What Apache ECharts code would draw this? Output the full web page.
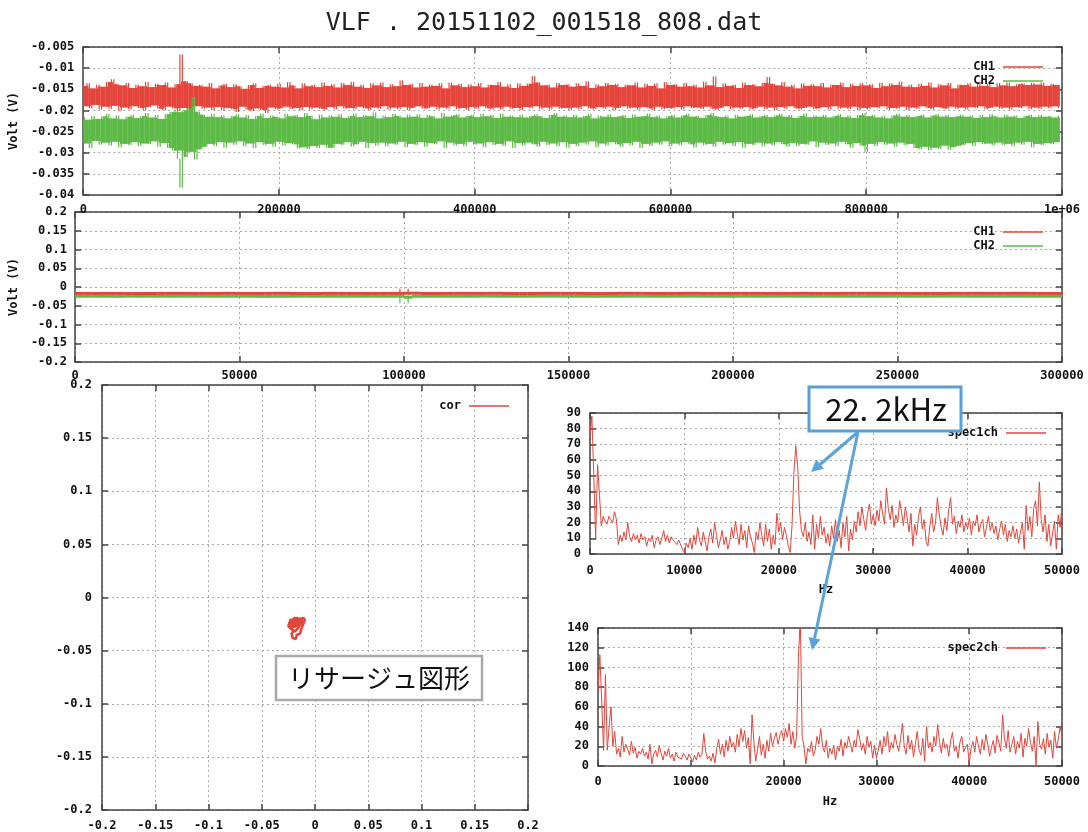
<!DOCTYPE html>
<html><head><meta charset="utf-8">
<script src="https://cdn.jsdelivr.net/npm/echarts@6/dist/echarts.min.js"></script>
<style>html,body{margin:0;padding:0;background:#fff}#c{width:1088px;height:832px}</style>
</head><body><div id="c"></div>
<script>
// ---------------- data ----------------
const titleText = 'VLF . 20151102_001518_808.dat';

// Panel 1: decimated samples, one every 2500 samples, values in mV
const longStep = 2500;
const ch1Long = [
-14.2,-19.0,-13.6,-19.5,-14.8,-18.7,-13.9,-19.8,-14.4,-19.1,-13.3,-19.6,-12.6,-18.9,-13.8,-20.1,-14.1,-19.3,-13.5,-19.7,
-14.7,-19.0,-13.9,-19.4,-14.3,-20.0,-13.2,-19.2,-14.5,-18.8,-13.7,-19.6,-14.0,-19.9,-13.4,-19.1,-14.6,-19.5,-13.8,-20.2,
-6.8,-19.4,-13.1,-20.3,-13.6,-19.8,-14.2,-19.0,-13.9,-19.6,-14.4,-19.3,-13.5,-19.9,-14.8,-19.2,-14.1,-20.0,-13.7,-19.4,
-14.5,-19.7,-13.8,-20.4,-14.3,-19.1,-14.9,-19.8,-14.0,-20.2,-13.6,-19.5,-14.7,-19.9,-14.2,-20.6,-13.9,-19.3,-14.4,-19.8,
-13.7,-19.5,-14.6,-19.1,-13.3,-19.7,-14.1,-19.4,-14.8,-19.9,-13.6,-19.2,-14.3,-19.8,-13.9,-19.3,-14.5,-19.6,-13.4,-19.9,
-14.2,-19.2,-13.8,-19.7,-14.6,-19.0,-13.5,-19.6,-14.0,-19.4,-13.2,-19.8,-14.4,-19.1,-13.9,-19.5,-14.7,-19.9,-13.6,-19.3,
-14.1,-19.6,-13.4,-19.0,-14.5,-19.8,-13.8,-19.3,-14.3,-19.7,-12.9,-19.2,-14.0,-19.9,-13.7,-19.4,-14.6,-19.0,-13.5,-19.6,
-14.4,-19.5,-13.9,-19.1,-14.2,-19.8,-13.6,-19.3,-14.8,-19.6,-13.4,-19.0,-14.1,-19.7,-13.7,-19.4,-14.5,-19.9,-13.8,-19.2,
-14.3,-19.6,-13.5,-19.0,-14.6,-19.5,-13.9,-19.8,-14.0,-19.3,-13.3,-19.7,-14.4,-19.1,-13.8,-19.6,-14.7,-19.4,-13.6,-19.9,
-14.2,-19.2,-13.7,-19.5,-11.9,-19.0,-13.4,-19.7,-14.1,-19.3,-13.9,-19.8,-14.6,-19.1,-13.5,-19.6,-14.0,-19.4,-13.8,-19.9,
-14.4,-19.3,-13.6,-19.7,-14.2,-19.0,-13.1,-19.5,-14.7,-19.8,-13.8,-19.2,-14.3,-19.6,-13.5,-19.1,-14.0,-19.9,-13.7,-19.4,
-14.5,-19.0,-13.9,-19.6,-14.1,-19.3,-13.4,-19.8,-14.6,-19.2,-13.7,-19.5,-14.2,-19.9,-13.6,-19.1,-14.8,-19.7,-13.3,-19.4,
-14.0,-19.6,-13.8,-19.2,-14.4,-19.8,-13.5,-19.0,-14.3,-19.5,-13.9,-19.3,-14.6,-19.7,-13.2,-19.1,-14.1,-19.6,-12.0,-19.9,
-14.5,-19.4,-13.6,-19.0,-14.2,-19.7,-13.9,-19.3,-14.7,-19.6,-13.4,-19.2,-14.0,-19.8,-13.8,-19.5,-14.3,-19.1,-13.5,-19.7,
-12.1,-19.3,-13.7,-19.9,-14.1,-19.2,-13.3,-19.6,-14.4,-19.0,-13.9,-19.5,-14.8,-19.8,-13.6,-19.4,-14.2,-19.1,-13.8,-19.7,
-14.3,-19.5,-13.5,-19.2,-14.6,-19.8,-13.9,-19.0,-14.0,-19.6,-13.4,-19.3,-14.5,-19.7,-13.7,-19.1,-14.2,-19.9,-13.6,-19.4,
-14.1,-19.7,-13.8,-19.2,-14.7,-19.5,-13.5,-19.0,-14.3,-19.8,-13.6,-19.4,-14.0,-19.6,-13.2,-19.1,-14.4,-19.9,-13.9,-19.3,
-14.5,-19.6,-13.7,-19.0,-14.2,-19.4,-13.4,-19.8,-14.6,-19.2,-13.8,-19.5,-14.1,-19.7,-13.5,-19.1,-14.8,-19.6,-13.9,-19.3,
-14.0,-19.8,-13.6,-19.2,-14.4,-19.5,-13.3,-19.0,-14.2,-19.7,-13.7,-19.4,-14.5,-19.1,-13.5,-19.6,-14.1,-19.3,-13.4,-19.8,
-14.3,-19.2,-13.8,-19.5,-13.6,-19.0,-14.0,-19.7,-13.5,-19.3,-13.9,-19.6,-13.4,-19.1,-14.2,-19.5,-13.7,-19.0,-14.0,-19.4
];
const ch2Long = [
-21.6,-27.8,-22.2,-28.9,-21.3,-27.2,-22.0,-28.1,-21.4,-27.6,-20.8,-28.3,-21.9,-27.4,-21.2,-28.7,-22.1,-27.9,-21.5,-28.2,
-21.0,-27.5,-21.8,-28.4,-21.3,-27.8,-20.6,-28.0,-21.7,-27.3,-21.1,-28.6,-22.0,-27.7,-20.9,-28.9,-20.4,-29.5,-19.8,-31.4,
-38.3,-20.0,-31.0,-19.5,-29.8,-16.8,-31.6,-20.3,-29.2,-21.0,-28.6,-21.5,-27.9,-20.8,-28.4,-21.6,-27.5,-21.2,-28.8,-21.9,
-27.6,-21.4,-28.1,-20.9,-27.3,-21.7,-28.5,-21.1,-27.8,-22.0,-28.9,-21.3,-27.5,-20.7,-28.2,-21.8,-27.9,-21.2,-28.6,-21.5,
-27.4,-21.9,-28.3,-20.8,-27.7,-21.4,-28.0,-21.1,-29.0,-21.6,-28.7,-20.6,-29.1,-21.3,-28.4,-22.1,-28.9,-21.0,-28.1,-21.7,
-28.8,-21.2,-28.8,-21.5,-27.9,-20.9,-28.2,-21.8,-27.5,-21.3,-28.6,-20.7,-28.0,-21.6,-27.4,-21.1,-28.9,-21.4,-27.7,-20.5,
-28.3,-21.9,-27.6,-21.2,-28.5,-21.6,-27.8,-20.8,-28.1,-21.3,-27.4,-21.7,-28.7,-21.0,-27.9,-21.5,-28.2,-20.9,-27.5,-21.8,
-28.6,-21.1,-27.7,-21.4,-28.0,-21.9,-27.3,-20.6,-28.8,-21.5,-27.6,-21.2,-28.3,-20.9,-27.9,-21.7,-28.5,-21.3,-27.4,-21.0,
-28.1,-21.6,-27.8,-20.8,-28.7,-21.4,-27.5,-21.1,-28.2,-21.8,-27.9,-20.7,-28.4,-21.5,-27.3,-21.2,-28.9,-21.6,-27.7,-21.0,
-28.3,-21.7,-27.6,-21.3,-28.0,-20.9,-28.6,-21.4,-27.4,-21.8,-28.2,-21.1,-27.8,-20.6,-28.5,-21.5,-27.5,-21.2,-28.8,-21.6,
-27.9,-21.0,-28.4,-21.7,-27.6,-21.3,-28.1,-20.8,-27.3,-21.9,-28.7,-21.2,-27.8,-21.5,-28.3,-20.9,-27.5,-21.6,-28.0,-21.4,
-28.6,-21.1,-27.7,-21.8,-28.2,-21.0,-27.4,-21.5,-28.9,-21.3,-27.9,-20.7,-28.4,-21.6,-27.6,-21.2,-28.1,-21.9,-27.3,-21.4,
-28.5,-21.0,-27.8,-21.7,-28.3,-21.2,-27.5,-20.8,-28.0,-21.5,-28.7,-21.3,-27.6,-21.8,-28.2,-21.1,-27.9,-20.6,-28.6,-21.4,
-27.4,-21.6,-28.1,-21.2,-27.7,-21.9,-28.4,-21.0,-27.5,-21.5,-28.8,-21.3,-27.9,-20.9,-28.2,-21.7,-27.6,-21.4,-28.5,-21.1,
-27.8,-21.6,-28.3,-21.2,-27.5,-20.8,-28.0,-21.5,-28.6,-21.1,-27.7,-21.8,-28.4,-21.3,-27.9,-20.7,-28.1,-21.6,-27.3,-21.2,
-28.7,-21.5,-27.6,-21.0,-28.2,-21.7,-27.8,-21.3,-28.5,-20.9,-27.4,-21.6,-28.0,-21.2,-28.8,-21.8,-27.7,-21.1,-28.3,-20.6,
-29.8,-21.4,-27.9,-21.0,-28.4,-21.7,-27.5,-21.3,-28.1,-21.9,-27.8,-21.2,-28.6,-20.8,-27.6,-21.5,-28.2,-21.1,-27.9,-21.6,
-28.9,-21.3,-29.2,-21.0,-28.6,-21.7,-29.4,-21.2,-28.8,-20.9,-29.1,-21.5,-28.3,-21.1,-29.3,-21.6,-28.7,-21.4,-28.4,-21.0,
-28.1,-21.5,-27.7,-21.2,-28.4,-21.8,-27.5,-21.1,-28.0,-21.6,-27.8,-20.9,-28.3,-21.4,-27.6,-21.7,-28.2,-21.0,-27.9,-21.5,
-28.5,-21.2,-27.6,-21.8,-28.1,-21.3,-27.4,-21.0,-28.7,-21.6,-27.9,-21.1,-28.2,-21.5,-27.7,-21.3,-28.0,-21.7,-27.5,-21.2
];

// Panel 2: first 300000 samples, one every 2500 samples, mV
const shortStep = 2500;
const ch1Short = [
-15.2,-18.9,-14.8,-19.3,-15.6,-18.6,-14.5,-19.1,-15.9,-18.8,
-14.9,-19.4,-15.3,-18.7,-14.6,-19.0,-15.7,-18.5,-15.1,-19.2,
-14.7,-18.9,-15.4,-19.5,-15.0,-18.6,-14.4,-19.1,-15.8,-18.8,
-15.2,-19.3,-14.6,-18.7,-15.5,-19.0,-14.9,-19.4,-15.3,-18.9,
-4.5,-19.6,-14.2,-18.8,-15.6,-19.1,-14.8,-18.5,-15.4,-19.2,
-15.0,-18.7,-14.6,-19.4,-15.7,-18.9,-15.1,-19.0,-14.5,-18.6,
-15.3,-19.3,-14.9,-18.8,-15.8,-19.1,-14.7,-18.5,-15.2,-19.4,
-14.4,-18.9,-15.5,-19.0,-15.0,-18.7,-14.8,-19.2,-15.6,-18.6,
-14.6,-19.3,-15.3,-18.8,-14.9,-19.1,-15.7,-18.5,-15.1,-19.4,
-14.5,-18.9,-15.4,-19.0,-14.8,-18.7,-15.2,-19.2,-14.7,-18.6,
-15.5,-19.3,-14.9,-18.8,-15.6,-19.1,-14.3,-18.9,-15.0,-19.4,
-14.6,-18.7,-15.3,-19.0,-15.1,-18.6,-14.8,-19.2,-15.4,-18.9,
-15.0
];
const ch2Short = [
-22.3,-27.1,-21.8,-26.6,-22.7,-27.4,-22.0,-26.9,-21.6,-27.3,
-22.4,-26.7,-21.9,-27.6,-22.2,-26.8,-21.7,-27.2,-22.5,-26.5,
-22.1,-27.0,-21.5,-27.5,-22.6,-26.9,-22.0,-27.3,-21.8,-26.7,
-22.4,-27.1,-21.6,-26.8,-22.3,-27.4,-21.9,-26.6,-22.7,-27.0,
-43.0,-21.8,-27.2,-22.1,-27.2,-21.8,-26.9,-22.4,-27.5,-22.0,
-26.7,-21.6,-27.3,-22.5,-26.8,-21.9,-27.0,-22.2,-26.6,-21.7,
-27.4,-22.3,-26.9,-21.8,-27.2,-22.6,-26.7,-22.0,-27.5,-21.5,
-26.8,-22.4,-27.1,-21.9,-26.6,-22.1,-27.3,-21.7,-26.9,-22.5,
-27.0,-21.8,-26.7,-22.3,-27.4,-22.0,-26.8,-21.6,-27.2,-22.4,
-26.6,-21.9,-27.5,-22.2,-26.9,-21.7,-27.1,-22.5,-26.7,-22.0,
-27.3,-21.8,-26.8,-22.3,-27.0,-21.6,-26.6,-22.1,-27.4,-21.9,
-26.9,-22.4,-27.2,-21.7,-26.7,-22.2,-27.1,-21.8,-26.8,-22.5,
-27.0
];

// Lissajous (CH1, CH2) pairs in mV
const corX = [-22,-15,-20,-13,-24,-17,-21,-14,-23,-16,-19,-12,-22,-18,-25,-15,-20,-13,-23,-17,-21,-14,-19,-24,-16,-22,-11,-9.5,-11,-13,-14,-17,-18,-21,-22,-20,-23,-25,-24,-20,-18,-21,-15,-12,-16,-19,-22,-20,-17,-23,
  -18,-23,-14,-21,-16,-24,-19,-13,-22,-17,-25,-15,-20,-23,-18,-21,-16,-24,-19,-22];
const corY = [-22,-25,-19,-21,-26,-20,-28,-23,-21,-27,-19.5,-20,-25,-22,-24,-21,-27,-24,-23,-26,-20,-22,-28,-22,-24,-27,-19,-21,-25,-30,-34,-35,-39,-38,-34,-31,-29,-27,-24,-22,-25,-23,-20,-22,-29,-32,-30,-25,-21,-26,
  -20,-24,-21,-26,-19,-23,-25,-20.5,-21,-24,-25,-22,-20,-27,-23,-19.5,-26,-21,-22,-24];

// Spectra, one value every 200 Hz from 0 to 50000 Hz
const specStep = 200;
const spec1 = [
76,88,50,10,57,38,18,24,21,19,24,22,20,27,22,6,12,8,14,9,20,11,8,13,9,
12,7,13,9,11,5,10,8,12,4,9,11,6,10,15,8,12,7,11,9,10,6,9,8,3,
1,7,4,10,3,12,6,17,9,5,14,8,2,11,16,7,20,12,4,9,15,6,11,3,8,
17,10,21,13,6,19,9,15,4,18,11,7,1,14,9,20,12,5,19,8,16,3,12,6,26,
14,20,9,17,12,5,1,18,52,69,56,28,15,11,20,8,14,6,25,3,19,10,24,12,17,
7,13,5,18,10,22,8,15,4,20,11,24,2,16,9,21,14,27,18,30,22,15,26,32,19,
25,18,28,21,34,26,19,42,29,22,31,17,25,20,34,27,18,30,23,14,26,5,19,12,24,
30,16,22,8,5,18,26,14,20,36,25,17,12,23,15,28,36,19,24,13,21,17,25,14,20,
16,23,12,21,18,25,14,19,22,11,17,24,15,20,13,18,9,16,21,12,19,8,15,11,18,
10,16,7,14,20,3,31,15,24,11,29,34,18,46,22,14,25,8,19,5,13,21,3,25,17,
32
];
const spec2 = [
76,113,65,16,93,16,40,60,20,35,12,18,9,30,14,22,17,11,25,13,19,8,15,12,18,
10,14,7,22,2,12,16,9,21,13,6,15,10,18,8,12,5,14,9,11,7,13,10,6,12,
8,4,11,6,14,9,12,33,15,7,10,5,13,3,18,27,12,22,9,26,15,30,19,24,14,
32,20,38,25,36,18,29,2,52,24,5,17,30,11,22,8,26,15,33,20,28,34,22,31,36,
25,38,29,43,22,35,18,30,110,150,30,20,2,18,14,25,10,16,30,22,38,20,14,26,8,
18,12,21,6,20,15,27,10,24,18,30,22,14,26,19,37,28,16,23,12,30,19,25,8,21,
8,16,26,12,30,20,35,14,24,18,32,22,15,27,43,20,12,31,17,26,9,22,35,16,11,
28,5,40,18,24,14,30,20,42,25,13,28,18,22,10,26,34,15,20,8,24,30,14,19,22,
3,18,25,14,30,20,12,27,16,32,22,10,19,26,13,31,24,15,52,28,18,36,14,22,30,
12,25,18,33,9,28,20,38,24,15,30,1,45,22,17,28,12,33,19,26,8,35,18,27,40,
30
];

// ---------------- styling ----------------
const RED = '#e4453b', GREEN = '#5dba47';
const FONT = '"DejaVu Sans Mono", "Liberation Mono", monospace';
const lab = {fontFamily: FONT, fontWeight: 'bold', fontSize: 12, color: '#111'};
const frame = {show: true, onZero: false, lineStyle: {color: '#444', width: 1.5}};
const tick = {show: true, inside: true, length: 6, lineStyle: {color: '#444', width: 1.5}};
const split = {show: true, lineStyle: {color: '#aaaaaa', type: [2, 3], width: 1}};
const fmt = v => String(Number(v.toFixed(4)));

function xAxes(g, min, max, interval, margin, formatter, extra) {
  return [
    Object.assign({type: 'value', gridIndex: g, min, max, interval, position: 'bottom',
      axisLine: frame, axisTick: tick, splitLine: split,
      axisLabel: Object.assign({margin, formatter, showMinLabel: true, showMaxLabel: true, hideOverlap: false}, lab)}, extra || {}),
    {type: 'value', gridIndex: g, min, max, interval, position: 'top',
      axisLine: frame, axisTick: tick, splitLine: {show: false}, axisLabel: {show: false}}
  ];
}
function yAxes(g, min, max, interval, margin, extra) {
  return [
    Object.assign({type: 'value', gridIndex: g, min, max, interval, position: 'left',
      axisLine: frame, axisTick: tick, splitLine: split,
      axisLabel: Object.assign({margin, formatter: fmt, showMinLabel: true, showMaxLabel: true, hideOverlap: false}, lab)}, extra || {}),
    {type: 'value', gridIndex: g, min, max, interval, position: 'right',
      axisLine: frame, axisTick: tick, splitLine: {show: false}, axisLabel: {show: false}}
  ];
}
const voltName = {name: 'Volt (V)', nameLocation: 'middle', nameRotate: 90, nameGap: 48,
  nameTextStyle: {fontFamily: FONT, fontWeight: 'bold', fontSize: 12, color: '#111'}};
const hzName = {name: 'Hz', nameLocation: 'middle', nameGap: 30,
  nameTextStyle: {fontFamily: FONT, fontWeight: 'bold', fontSize: 12, color: '#111'}};

const xAxis = [].concat(
  xAxes(0, 0, 1000000, 200000, 9, v => v === 1000000 ? '1e+06' : String(v)),
  xAxes(1, 0, 300000, 50000, 8, v => String(v)),
  xAxes(2, -0.2, 0.2, 0.05, 10, fmt),
  xAxes(3, 0, 50000, 10000, 11, v => String(v), hzName),
  xAxes(4, 0, 50000, 10000, 10, v => String(v), hzName)
);
const yAxis = [].concat(
  yAxes(0, -0.04, -0.005, 0.005, 9, voltName),
  yAxes(1, -0.2, 0.2, 0.05, 8, voltName),
  yAxes(2, -0.2, 0.2, 0.05, 10),
  yAxes(3, 0, 90, 10, 9),
  yAxes(4, 0, 140, 20, 9)
);

// Dense trace drawn min/max style: each span between two consecutive samples
// is a thin vertical stroke from the lower to the higher value; the part it shares
// with both neighbours is filled over the full span width (solid core of the band).
function spans(arr) {
  const s = [];
  for (let i = 1; i < arr.length; i++) {
    const a = arr[i - 1] / 1000, b = arr[i] / 1000;
    s.push([Math.min(a, b), Math.max(a, b)]);
  }
  let last = null;
  return s.map((p, i) => {
    const prev = s[Math.max(i - 1, 0)], next = s[Math.min(i + 1, s.length - 1)];
    let cLo = Math.max(p[0], prev[0], next[0]);
    let cHi = Math.min(p[1], prev[1], next[1]);
    if (cLo >= cHi && last) { cLo = last[0]; cHi = last[1]; }
    else if (cLo < cHi) { last = [cLo, cHi]; }
    return [i + 0.5, p[0], p[1], cLo, cHi];
  });
}
function traceSeries(name, xi, yi, arr, step, color, minCore) {
  return {type: 'custom', name, xAxisIndex: xi, yAxisIndex: yi, color, itemStyle: {color},
    data: spans(arr).map(d => [d[0] * step, d[1], d[2], d[3], d[4]]),
    animation: false, clip: true, encode: {x: 0, y: [1, 2]},
    renderItem: function (params, api) {
      const x = api.value(0);
      const pHi = api.coord([x, api.value(2)]);
      const pLo = api.coord([x, api.value(1)]);
      const cHi = api.coord([x, api.value(4)]);
      const cLo = api.coord([x, api.value(3)]);
      const w = api.size([step, 0])[0];
      let top = cHi[1], h = cLo[1] - cHi[1];
      if (h < minCore) { const m = (cHi[1] + cLo[1]) / 2; top = m - minCore / 2; h = minCore; }
      return {type: 'group', children: [
        {type: 'rect', shape: {x: pHi[0] - w / 2, y: top, width: w + 0.3, height: h}, style: {fill: color}},
        {type: 'rect', shape: {x: pHi[0] - 0.6, y: pHi[1], width: 1.2, height: Math.max(pLo[1] - pHi[1], 1)}, style: {fill: color}}
      ]};
    }};
}
const toS = (arr, step) => arr.map((v, i) => [i * step, v]);
const corData = corX.map((x, i) => [x / 1000, corY[i] / 1000]);

function line(name, xi, yi, data, color, width) {
  return {type: 'line', name, xAxisIndex: xi, yAxisIndex: yi, data, color,
    showSymbol: false, symbol: 'none', lineStyle: {color, width}, itemStyle: {color},
    clip: true, animation: false};
}
const series = [
  traceSeries('CH1', 0, 0, ch1Long, longStep, RED, 1),
  traceSeries('CH2', 0, 0, ch2Long, longStep, GREEN, 1),
  traceSeries('CH2', 2, 2, ch2Short, shortStep, GREEN, 3),
  traceSeries('CH1', 2, 2, ch1Short, shortStep, RED, 3),
  line('cor', 4, 4, corData, RED, 2.6),
  line('spec1ch', 6, 6, toS(spec1, specStep), RED, 1),
  line('spec2ch', 8, 8, toS(spec2, specStep), RED, 1)
];

function leg(names, right, top) {
  return {data: names, orient: 'vertical', right, top, align: 'right', icon: 'rect',
    itemWidth: 40, itemHeight: 1.5, itemGap: 2, selectedMode: false,
    textStyle: Object.assign({}, lab, {padding: [0, 3, 0, 0]})};
}

const option = {
  backgroundColor: '#fff',
  animation: false,
  title: {text: titleText, left: 'center', top: 6,
    textStyle: {fontFamily: FONT, fontWeight: 'normal', fontSize: 25, color: '#222'}},
  grid: [
    {left: 73, top: 47, width: 989, height: 148},
    {left: 65, top: 212, width: 997, height: 150},
    {left: 102, top: 385, width: 426, height: 427},
    {left: 590, top: 413, width: 472, height: 141},
    {left: 598, top: 628, width: 464, height: 138}
  ],
  xAxis, yAxis, series,
  legend: [
    leg(['CH1', 'CH2'], 40, 56),
    leg(['CH1', 'CH2'], 40, 221),
    leg(['cor'], 574, 395),
    leg(['spec1ch'], 37, 422),
    leg(['spec2ch'], 37, 637)
  ],
  graphic: [
    {type: 'rect', z: 100, shape: {x: 809, y: 387, width: 152, height: 44},
      style: {fill: '#fff', stroke: '#5b9fd6', lineWidth: 3}},
    {type: 'text', z: 101, x: 886, y: 409,
      style: {text: '22. 2kHz', font: '31px "Noto Sans CJK JP"', fill: '#111', align: 'center', verticalAlign: 'middle'}},
    {type: 'line', z: 100, shape: {x1: 858, y1: 432, x2: 820, y2: 464.5}, style: {stroke: '#5ba3d8', lineWidth: 3}},
    {type: 'polygon', z: 100, shape: {points: [[811, 472], [824, 468.8], [816.2, 459.6]]}, style: {fill: '#5ba3d8'}},
    {type: 'line', z: 100, shape: {x1: 858, y1: 432, x2: 814.5, y2: 638.5}, style: {stroke: '#5ba3d8', lineWidth: 3}},
    {type: 'polygon', z: 100, shape: {points: [[812, 650], [820.4, 639.5], [808.6, 637.1]]}, style: {fill: '#5ba3d8'}},
    {type: 'rect', z: 100, shape: {x: 276, y: 656, width: 206, height: 44},
      style: {fill: '#fff', stroke: '#aaaaaa', lineWidth: 2.5}},
    {type: 'text', z: 101, x: 379, y: 678,
      style: {text: 'リサージュ図形', font: '26px "Noto Sans CJK JP"', fill: '#111', align: 'center', verticalAlign: 'middle'}}
  ]
};
const chart = echarts.init(document.getElementById('c'), null, {renderer: 'canvas'});
chart.setOption(option);
</script></body></html>
